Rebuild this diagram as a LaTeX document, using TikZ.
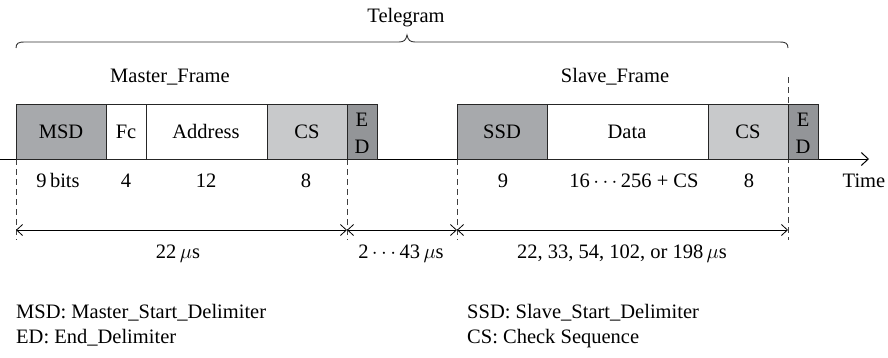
\documentclass[tikz,border=0pt]{standalone}
\usepackage{fontspec}
\setmainfont{Liberation Serif}
\usetikzlibrary{arrows.meta}
\definecolor{gdark}{HTML}{A7A9AC}
\definecolor{glight}{HTML}{C8C9CB}
\definecolor{gdeep}{HTML}{939598}
\tikzset{
  fld/.style={draw=black!85, line width=1.2pt, minimum height=55pt, inner sep=0pt, anchor=north west},
  txt/.style={anchor=base, inner sep=0pt},
  dimline/.style={line width=0.8pt, {Straight Barb[length=6pt,width=11pt]}-{Straight Barb[length=6pt,width=11pt]}},
  guide/.style={line width=0.8pt, dash pattern=on 6pt off 4pt, black!75},
}
\begin{document}
\begin{tikzpicture}[x=1pt,y=-1pt,font=\fontsize{20.5}{24}\selectfont]
\useasboundingbox (0,0) rectangle (888,357);
% guides
\coordinate (g1t) at (16,159); \coordinate (g1b) at (16,240);
\coordinate (g2t) at (347,159); \coordinate (g2b) at (347,240);
\coordinate (g3t) at (457,159); \coordinate (g3b) at (457,240);
\coordinate (g4t) at (788,77); \coordinate (g4b) at (788,240);
\draw[guide] (g1t) -- (g1b);
\draw[guide] (g2t) -- (g2b);
\draw[guide] (g3t) -- (g3b);
\draw[guide] (g4t) -- (g4b);
% axis
\coordinate (ax0) at (0,159); \coordinate (ax1) at (869,159);
\draw[line width=1pt, -{Straight Barb[length=7pt,width=13pt]}] (ax0) -- (ax1);
% master frame
\node[fld, fill=gdark, minimum width=90pt] (msd) at (16,104) {};
\node[fld, fill=white, minimum width=40pt] (fc) at (106,104) {};
\node[fld, fill=white, minimum width=121pt] (addr) at (146,104) {};
\node[fld, fill=glight, minimum width=80pt] (cs1) at (267,104) {};
\node[fld, fill=gdeep, minimum width=30pt] (ed1) at (347,104) {};
% slave frame
\node[fld, fill=gdark, minimum width=90pt] (ssd) at (457,104) {};
\node[fld, fill=white, minimum width=161pt] (data) at (547,104) {};
\node[fld, fill=glight, minimum width=80pt] (cs2) at (708,104) {};
\node[fld, fill=gdeep, minimum width=30pt] (ed2) at (788,104) {};
% box texts
\node[txt] (tmsd) at (61,138) {MSD};
\node[txt] (tfc) at (126,138) {Fc};
\node[txt] (taddr) at (206,138) {Address};
\node[txt] (tcs1) at (307,138) {CS};
\node[txt] (te1) at (362,126) {E};
\node[txt] (td1) at (362,153) {D};
\node[txt] (tssd) at (502,138) {SSD};
\node[txt] (tdata) at (627,138) {Data};
\node[txt] (tcs2) at (748,138) {CS};
\node[txt] (te2) at (803,126) {E};
\node[txt] (td2) at (803,153) {D};
% numbers
\node[txt] (n1) at (58,187) {9\,bits};
\node[txt] (n2) at (126,187) {4};
\node[txt] (n3) at (206,187) {12};
\node[txt] (n4) at (306,187) {8};
\node[txt] (n5) at (503,187) {9};
\node[txt] (n6) at (634,187) {16\,$\cdots$\,256 + CS};
\node[txt] (n7) at (749,187) {8};
\node[txt] (time) at (864,187) {Time};
% dimensions
\coordinate (d1) at (16,230); \coordinate (d2) at (347,230);
\coordinate (d3) at (457,230); \coordinate (d4) at (788,230);
\draw[dimline] (d1) -- (d2);
\draw[dimline] (d2) -- (d3);
\draw[dimline] (d3) -- (d4);
\node[txt] (l1) at (178,258) {22\,$\mu$s};
\node[txt] (l2) at (401,258) {2\,$\cdots$\,43\,$\mu$s};
\node[txt] (l3) at (622,258) {22, 33, 54, 102, or 198\,$\mu$s};
% titles
\node[txt] (tele) at (406,22) {Telegram};
\node[txt] (mf) at (170,82) {Master\_Frame};
\node[txt] (sf) at (615,82) {Slave\_Frame};
% brace
\draw[line width=0.9pt, black!80] (16,48) .. controls (16,43) and (19,42) .. (24,42) -- (399,42)
  .. controls (404,42) and (406,40) .. (407,35) .. controls (408,40) and (410,42) .. (415,42)
  -- (780,42) .. controls (785,42) and (788,43) .. (788,48);
% legend
\node[txt, anchor=base west] (lg1) at (16,318) {MSD: Master\_Start\_Delimiter};
\node[txt, anchor=base west] (lg2) at (16,343) {ED: End\_Delimiter};
\node[txt, anchor=base west] (lg3) at (467,318) {SSD: Slave\_Start\_Delimiter};
\node[txt, anchor=base west] (lg4) at (467,343) {CS: Check Sequence};
\end{tikzpicture}
\end{document}
